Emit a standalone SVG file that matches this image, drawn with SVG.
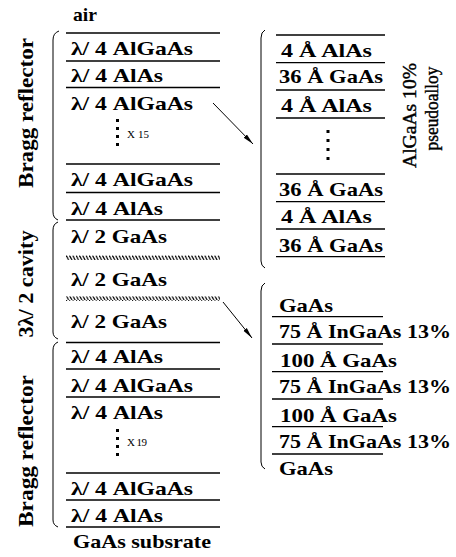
<svg xmlns="http://www.w3.org/2000/svg" width="456" height="557" viewBox="0 0 456 557">
<style>
.t{font-family:"Liberation Serif","Times New Roman",serif;font-size:19px;font-weight:bold;fill:#000}
.s{font-family:"Liberation Serif","Times New Roman",serif;font-size:11px;fill:#000}
.r{font-family:"Liberation Serif","Times New Roman",serif;font-size:20px;font-weight:bold;fill:#000;text-anchor:middle}
.q{font-family:"Liberation Serif","Times New Roman",serif;font-size:19px;fill:#000;text-anchor:middle;stroke:#000;stroke-width:0.4}
.ln{stroke:#000;stroke-width:1.3;fill:none}
.br{stroke:#000;stroke-width:1;fill:none}
.dot{fill:#000}
.ar{stroke:#000;stroke-width:1;fill:none}
</style>
<defs>
<pattern id="hatch" width="3.3" height="5" patternUnits="userSpaceOnUse">
<path d="M0,0 L2.6,5" stroke="#000" stroke-width="1.2"/>
</pattern>
<marker id="ah" markerWidth="12" markerHeight="6" refX="11" refY="3" orient="auto" markerUnits="userSpaceOnUse">
<path d="M0,0.8 L11,3 L0,5.2 Z" fill="#000"/>
</marker>
</defs>
<rect width="456" height="557" fill="#fff"/>

<g id="labels-left">
<text class="r" transform="translate(33,113) rotate(-90)" textLength="150" lengthAdjust="spacingAndGlyphs">Bragg reflector</text>
<text class="r" transform="translate(33,284) rotate(-90)" textLength="107" lengthAdjust="spacingAndGlyphs">3λ/ 2 cavity</text>
<text class="r" transform="translate(33,451) rotate(-90)" textLength="152" lengthAdjust="spacingAndGlyphs">Bragg reflector</text>
</g>

<g id="braces">
<path class="br" d="M59,31 Q53,33 53,40 L53,212 Q53,218 58,220"/>
<path class="br" d="M58,222 Q53,224 53,230 L53,332 Q53,337 58,339"/>
<path class="br" d="M58,342 Q53,344 53,350 L53,520 Q53,525 58,527"/>
<path class="br" d="M265,30 Q261,32 261,38 L261,261 Q261,266 265,268"/>
<path class="br" d="M265,283 Q261,285 261,291 L261,462 Q261,467 265,469"/>
</g>

<g id="air"><text class="t" x="73" y="21" textLength="24" lengthAdjust="spacingAndGlyphs">air</text></g>

<g id="top-bragg">
<line class="ln" x1="66" y1="33" x2="220" y2="33"/>
<text class="t" x="71" y="55" textLength="122" lengthAdjust="spacingAndGlyphs">λ/ 4 AlGaAs</text>
<line class="ln" x1="66" y1="61" x2="220" y2="61"/>
<text class="t" x="71" y="82" textLength="92" lengthAdjust="spacingAndGlyphs">λ/ 4 AlAs</text>
<line class="ln" x1="66" y1="87.5" x2="220" y2="87.5"/>
<text class="t" x="71" y="110" textLength="122" lengthAdjust="spacingAndGlyphs">λ/ 4 AlGaAs</text>
<rect class="dot" x="116" y="119" width="3" height="3"/>
<rect class="dot" x="116" y="127" width="3" height="3"/>
<rect class="dot" x="116" y="135" width="3" height="3"/>
<rect class="dot" x="116" y="143" width="3" height="3"/>
<text class="s" x="127" y="138" textLength="22">X 15</text>
<line class="ln" x1="66" y1="164" x2="220" y2="164"/>
<text class="t" x="71" y="186" textLength="122" lengthAdjust="spacingAndGlyphs">λ/ 4 AlGaAs</text>
<line class="ln" x1="66" y1="192.5" x2="220" y2="192.5"/>
<text class="t" x="71" y="215" textLength="92" lengthAdjust="spacingAndGlyphs">λ/ 4 AlAs</text>
<line class="ln" x1="66" y1="220" x2="220" y2="220"/>
</g>

<g id="cavity">
<text class="t" x="71" y="243" textLength="96" lengthAdjust="spacingAndGlyphs">λ/ 2 GaAs</text>
<rect x="66" y="255.5" width="154" height="4.5" fill="url(#hatch)"/>
<text class="t" x="71" y="286" textLength="96" lengthAdjust="spacingAndGlyphs">λ/ 2 GaAs</text>
<rect x="66" y="296.5" width="154" height="4.5" fill="url(#hatch)"/>
<text class="t" x="71" y="328" textLength="96" lengthAdjust="spacingAndGlyphs">λ/ 2 GaAs</text>
</g>

<g id="bottom-bragg">
<line class="ln" x1="66" y1="342.5" x2="220" y2="342.5"/>
<text class="t" x="71" y="363" textLength="92" lengthAdjust="spacingAndGlyphs">λ/ 4 AlAs</text>
<line class="ln" x1="66" y1="369" x2="220" y2="369"/>
<text class="t" x="71" y="392" textLength="122" lengthAdjust="spacingAndGlyphs">λ/ 4 AlGaAs</text>
<line class="ln" x1="66" y1="397" x2="220" y2="397"/>
<text class="t" x="71" y="419" textLength="92" lengthAdjust="spacingAndGlyphs">λ/ 4 AlAs</text>
<rect class="dot" x="116" y="429" width="3" height="3"/>
<rect class="dot" x="116" y="437" width="3" height="3"/>
<rect class="dot" x="116" y="445" width="3" height="3"/>
<rect class="dot" x="116" y="453" width="3" height="3"/>
<text class="s" x="127" y="446" textLength="20">X 19</text>
<line class="ln" x1="66" y1="473" x2="220" y2="473"/>
<text class="t" x="71" y="495" textLength="122" lengthAdjust="spacingAndGlyphs">λ/ 4 AlGaAs</text>
<line class="ln" x1="66" y1="500" x2="220" y2="500"/>
<text class="t" x="71" y="522" textLength="92" lengthAdjust="spacingAndGlyphs">λ/ 4 AlAs</text>
<line class="ln" x1="66" y1="527" x2="220" y2="527"/>
</g>

<g id="substrate"><text class="t" x="73" y="548" textLength="138" lengthAdjust="spacingAndGlyphs">GaAs subsrate</text></g>

<g id="pseudoalloy">
<line class="ln" x1="276" y1="35" x2="385" y2="35"/>
<text class="t" x="281" y="57" textLength="91" lengthAdjust="spacingAndGlyphs">4 Å AlAs</text>
<line class="ln" x1="276" y1="62.7" x2="385" y2="62.7"/>
<text class="t" x="279" y="83" textLength="104" lengthAdjust="spacingAndGlyphs">36 Å GaAs</text>
<line class="ln" x1="276" y1="90" x2="385" y2="90"/>
<text class="t" x="281" y="111.7" textLength="91" lengthAdjust="spacingAndGlyphs">4 Å AlAs</text>
<line class="ln" x1="276" y1="118" x2="385" y2="118"/>
<rect class="dot" x="326.5" y="130" width="3" height="3"/>
<rect class="dot" x="326.5" y="139" width="3" height="3"/>
<rect class="dot" x="326.5" y="148" width="3" height="3"/>
<rect class="dot" x="326.5" y="157" width="3" height="3"/>
<line class="ln" x1="276" y1="174" x2="385" y2="174"/>
<text class="t" x="279" y="196" textLength="104" lengthAdjust="spacingAndGlyphs">36 Å GaAs</text>
<line class="ln" x1="276" y1="201.7" x2="385" y2="201.7"/>
<text class="t" x="281" y="223" textLength="91" lengthAdjust="spacingAndGlyphs">4 Å AlAs</text>
<line class="ln" x1="276" y1="229" x2="385" y2="229"/>
<text class="t" x="279" y="251.7" textLength="104" lengthAdjust="spacingAndGlyphs">36 Å GaAs</text>
<line class="ln" x1="276" y1="256.7" x2="385" y2="256.7"/>
<text class="q" transform="translate(416,115.5) rotate(-90)" textLength="105" lengthAdjust="spacingAndGlyphs">AlGaAs 10%</text>
<text class="q" transform="translate(438,108.5) rotate(-90)" textLength="84" lengthAdjust="spacingAndGlyphs">pseudoalloy</text>
</g>

<g id="quantum-wells">
<text class="t" x="279" y="311.7" textLength="54" lengthAdjust="spacingAndGlyphs">GaAs</text>
<line class="ln" x1="272" y1="316.7" x2="383" y2="316.7"/>
<text class="t" x="279" y="338" textLength="172" lengthAdjust="spacingAndGlyphs">75 Å InGaAs 13%</text>
<line class="ln" x1="272" y1="344" x2="383" y2="344"/>
<text class="t" x="280" y="366.7" textLength="117" lengthAdjust="spacingAndGlyphs">100 Å GaAs</text>
<line class="ln" x1="272" y1="371.7" x2="383" y2="371.7"/>
<text class="t" x="279" y="393" textLength="172" lengthAdjust="spacingAndGlyphs">75 Å InGaAs 13%</text>
<line class="ln" x1="272" y1="399" x2="383" y2="399"/>
<text class="t" x="280" y="421.7" textLength="117" lengthAdjust="spacingAndGlyphs">100 Å GaAs</text>
<line class="ln" x1="272" y1="426.7" x2="383" y2="426.7"/>
<text class="t" x="279" y="448" textLength="172" lengthAdjust="spacingAndGlyphs">75 Å InGaAs 13%</text>
<line class="ln" x1="272" y1="454" x2="383" y2="454"/>
<text class="t" x="279" y="475" textLength="54" lengthAdjust="spacingAndGlyphs">GaAs</text>
</g>

<g id="connectors">
<line class="ar" x1="213" y1="103" x2="253" y2="144" marker-end="url(#ah)"/>
<line class="ar" x1="223" y1="302" x2="252" y2="338" marker-end="url(#ah)"/>
</g>
</svg>
